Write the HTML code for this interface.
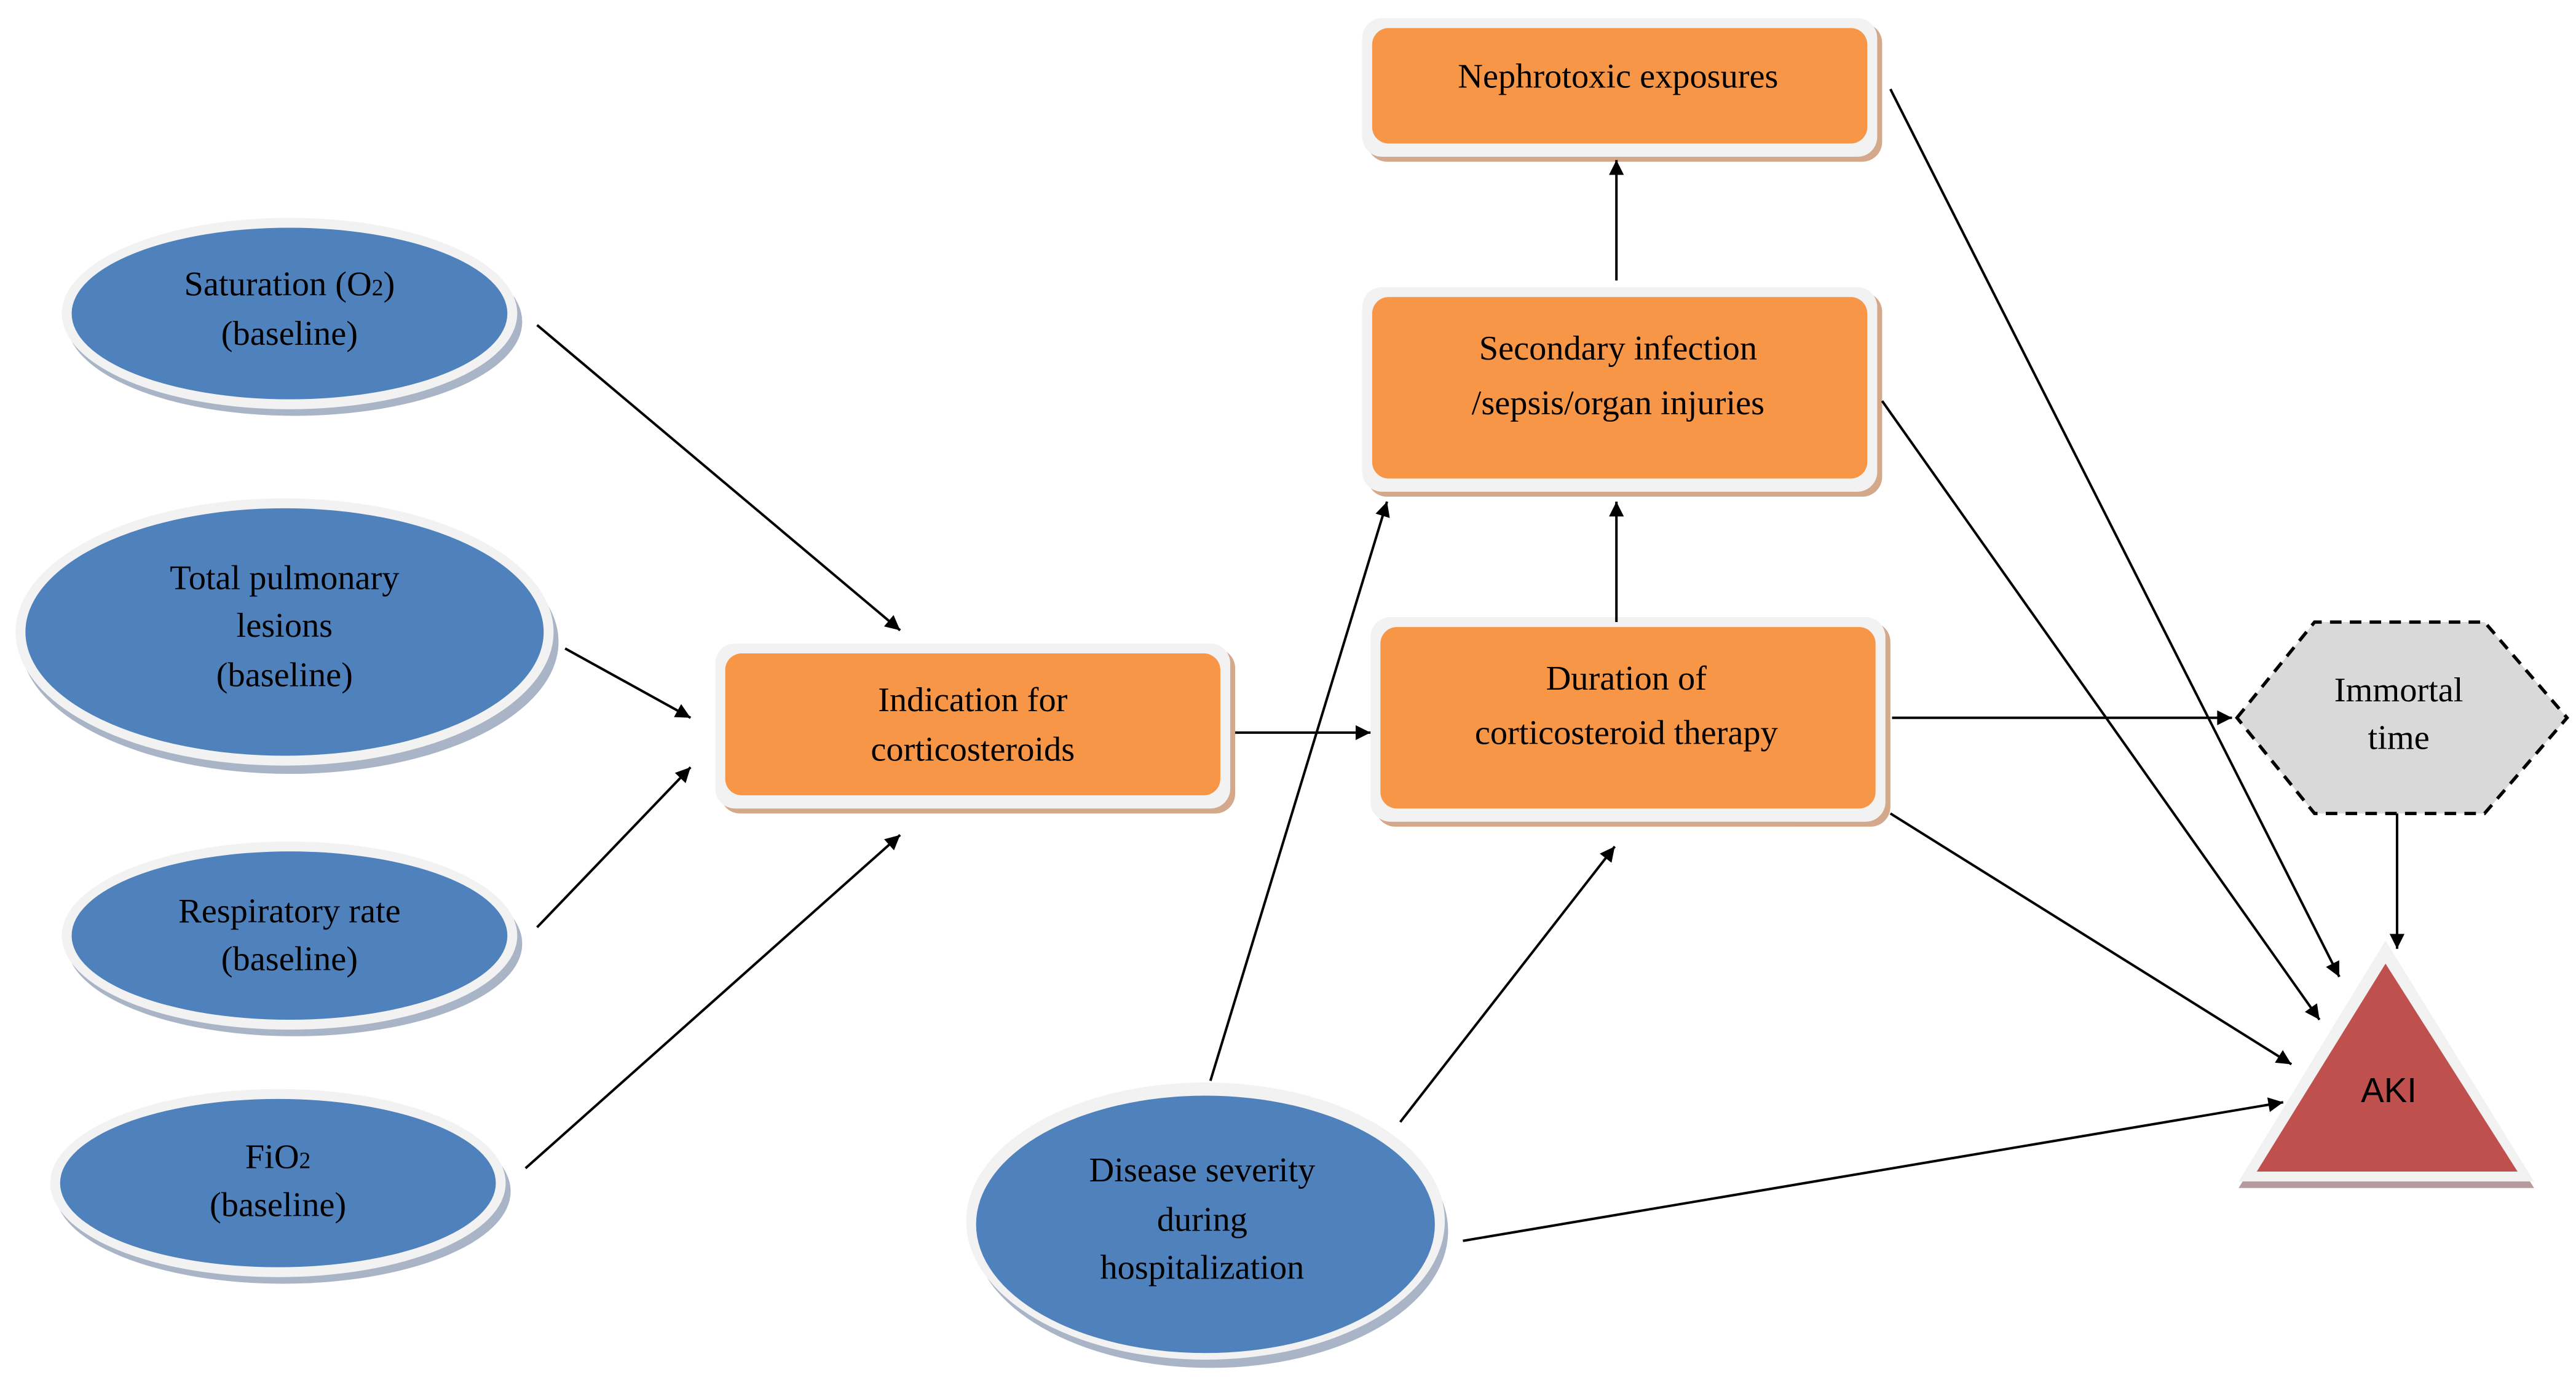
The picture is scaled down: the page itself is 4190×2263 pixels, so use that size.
<!DOCTYPE html>
<html><head><meta charset="utf-8"><style>
html,body{margin:0;padding:0;background:#fff;}
svg{display:block;}
text{font-family:"Liberation Serif",serif;font-size:21px;fill:#000;text-anchor:middle;}
</style></head><body>
<svg width="4190" height="2263" viewBox="0 0 1560 843" xmlns="http://www.w3.org/2000/svg">
<defs>
<marker id="a" viewBox="0 0 10 10" refX="10" refY="5" markerWidth="10" markerHeight="9" markerUnits="userSpaceOnUse" orient="auto"><path d="M0,0 L10,5 L0,10 z" fill="#000"/></marker>
</defs>
<g fill="none">
<g>
<ellipse cx="178" cy="195" rx="138" ry="57" fill="#a9b4c6"/>
<ellipse cx="175" cy="190" rx="138" ry="58" fill="#f2f2f2"/>
<ellipse cx="175" cy="190" rx="132" ry="52" fill="#4f81bd"/>

<ellipse cx="175" cy="389" rx="163" ry="80" fill="#a9b4c6"/>
<ellipse cx="172" cy="383" rx="163" ry="81" fill="#f2f2f2"/>
<ellipse cx="172" cy="383" rx="157" ry="75" fill="#4f81bd"/>

<ellipse cx="178" cy="572" rx="138" ry="56" fill="#a9b4c6"/>
<ellipse cx="175" cy="567" rx="138" ry="57" fill="#f2f2f2"/>
<ellipse cx="175" cy="567" rx="132" ry="51" fill="#4f81bd"/>

<ellipse cx="171" cy="722" rx="138" ry="56" fill="#a9b4c6"/>
<ellipse cx="168" cy="717" rx="138" ry="57" fill="#f2f2f2"/>
<ellipse cx="168" cy="717" rx="132" ry="51" fill="#4f81bd"/>

<ellipse cx="733" cy="746" rx="144" ry="83" fill="#a9b4c6"/>
<ellipse cx="730" cy="740" rx="145" ry="84" fill="#f2f2f2"/>
<ellipse cx="730" cy="742" rx="139" ry="78" fill="#4f81bd"/>
</g>
<g>
<rect x="436" y="393" width="312" height="100" rx="12" fill="#d4a88a"/>
<rect x="433" y="390" width="312" height="100" rx="12" fill="#f2f2f2"/>
<rect x="439" y="396" width="300" height="86" rx="10" fill="#f79646"/>

<rect x="828" y="14" width="312" height="84" rx="12" fill="#d4a88a"/>
<rect x="825" y="11" width="312" height="84" rx="12" fill="#f2f2f2"/>
<rect x="831" y="17" width="300" height="70" rx="10" fill="#f79646"/>

<rect x="828" y="177" width="312" height="124" rx="12" fill="#d4a88a"/>
<rect x="825" y="174" width="312" height="124" rx="12" fill="#f2f2f2"/>
<rect x="831" y="180" width="300" height="110" rx="10" fill="#f79646"/>

<rect x="833" y="377" width="312" height="124" rx="12" fill="#d4a88a"/>
<rect x="830" y="374" width="312" height="124" rx="12" fill="#f2f2f2"/>
<rect x="836" y="380" width="300" height="110" rx="10" fill="#f79646"/>
</g>
<polygon points="1355,435 1402,377 1505,377 1555,435 1505,493 1402,493" fill="#d9d9d9" stroke="#000" stroke-width="2" stroke-dasharray="7,5"/>
<polygon points="1445,574 1356,720 1535,720" fill="#b79a9e"/>
<polygon points="1445,570 1356,716 1535,716" fill="#f2f2f2"/>
<polygon points="1445,584 1367,710 1525,710" fill="#c0504d"/>
</g>
<g stroke="#000" stroke-width="1.5" fill="none" marker-end="url(#a)">
<line x1="325" y1="197" x2="545" y2="382"/>
<line x1="342" y1="393" x2="418" y2="435"/>
<line x1="325" y1="562" x2="418" y2="465"/>
<line x1="318" y1="708" x2="545" y2="506"/>
<line x1="748" y1="444" x2="830" y2="444"/>
<line x1="733" y1="655" x2="840" y2="304"/>
<line x1="848" y1="680" x2="978" y2="513"/>
<line x1="979" y1="170" x2="979" y2="97"/>
<line x1="979" y1="377" x2="979" y2="304"/>
<line x1="1146" y1="435" x2="1352" y2="435"/>
<line x1="1145" y1="54" x2="1417" y2="592"/>
<line x1="1140" y1="243" x2="1405" y2="618"/>
<line x1="1145" y1="493" x2="1388" y2="645"/>
<line x1="886" y1="752" x2="1383" y2="668"/>
<line x1="1452" y1="493" x2="1452" y2="575"/>
</g>
<text x="175" y="179">Saturation (O<tspan font-size="14">2</tspan>)</text>
<text x="175" y="209">(baseline)</text>
<text x="172" y="357">Total pulmonary</text>
<text x="172" y="386">lesions</text>
<text x="172" y="416">(baseline)</text>
<text x="175" y="559">Respiratory rate</text>
<text x="175" y="588">(baseline)</text>
<text x="168" y="708">FiO<tspan font-size="14">2</tspan></text>
<text x="168" y="737">(baseline)</text>
<text x="728" y="716">Disease severity</text>
<text x="728" y="746">during</text>
<text x="728" y="775">hospitalization</text>
<text x="589" y="431">Indication for</text>
<text x="589" y="461">corticosteroids</text>
<text x="980" y="53" font-size="23">Nephrotoxic exposures</text>
<text x="980" y="218" font-size="24">Secondary infection</text>
<text x="980" y="251" font-size="24">/sepsis/organ injuries</text>
<text x="985" y="418" font-size="24">Duration of</text>
<text x="985" y="451" font-size="24">corticosteroid therapy</text>
<text x="1453" y="425" font-size="22">Immortal</text>
<text x="1453" y="454" font-size="22">time</text>
<text x="1447" y="668" font-size="19" style="font-family:'Liberation Sans',sans-serif">AKI</text>
</svg>
</body></html>
